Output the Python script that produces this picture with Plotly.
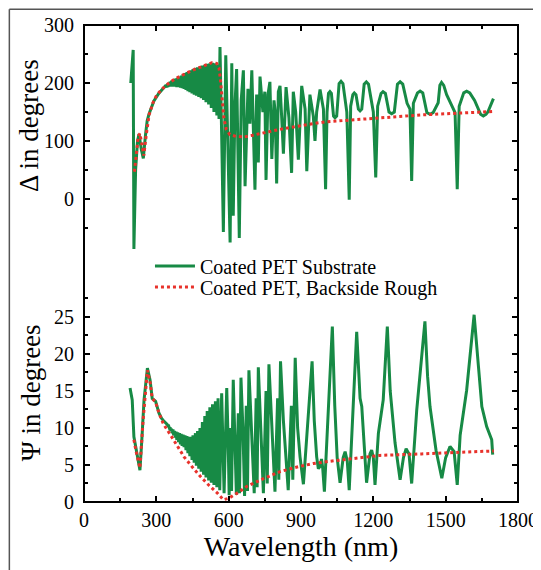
import plotly.graph_objects as go

# Delta (top panel)
wl_delta_coated = [194, 204, 207, 214, 222, 228, 238, 246, 255, 262, 270, 280, 290, 310, 330,
                   340, 343, 345, 348, 351, 354, 357, 360, 363, 366, 369, 372, 375, 379, 382, 385,
                   389, 392, 396, 400, 403, 407, 411, 415, 419, 423, 427, 431, 435, 439, 444, 448,
                   452, 457, 462, 466, 471, 476, 481, 486, 491, 496, 501, 506, 511, 517, 522, 528,
                   533, 539, 545, 551, 556, 560,
                   564, 571, 578, 588, 597, 606, 613, 619, 626, 633, 644, 652, 661, 668, 680, 688,
                   696, 709, 716, 723, 730, 742, 750, 755, 763, 771, 779, 788, 793, 799, 806, 813,
                   820, 827, 838, 850, 861, 868, 878, 889, 903, 917, 924, 937, 951, 958, 965, 979,
                   993, 1002, 1008, 1014, 1020, 1026, 1035, 1041, 1048, 1058, 1066, 1074, 1090, 1100,
                   1106, 1115, 1121, 1128, 1138, 1145, 1152, 1162, 1171, 1180, 1200, 1210, 1218, 1232,
                   1240, 1250, 1265, 1276, 1287, 1300, 1311, 1322, 1340, 1352, 1359, 1366, 1383, 1394,
                   1405, 1422, 1435, 1448, 1469, 1476, 1483, 1492, 1504, 1539, 1548, 1556, 1575, 1587,
                   1600, 1620, 1645, 1656, 1667, 1675, 1698]
delta_coated = [200, 257, -86, 50, 100, 112, 85, 70, 110, 135, 147, 160, 169, 182, 192,
                196, 192, 198, 193, 200, 194, 202, 194, 204, 194, 205, 194, 207, 194, 208, 193,
                209, 193, 211, 192, 213, 191, 215, 190, 217, 188, 219, 186, 220, 184, 222, 182,
                224, 180, 226, 178, 227, 176, 228, 174, 230, 171, 231, 167, 233, 163, 234, 157,
                235, 150, 234, 144, 232, 138,
                262, 110, -57, 248, 90, -75, 234, -29, 160, 224, -67, 170, 222, 22, 190, 130,
                222, 16, 180, 63, 211, 150, 185, 33, 180, 202, 69, 170, 150, 27, 185, 195,
                140, 78, 193, 140, 45, 185, 150, 68, 195, 155, 48, 180, 143, 100, 150, 189,
                155, 17, 150, 182, 185, 182, 143, 140, 143, 199, 203, 199, 150, -1,
                160, 180, 183, 180, 155, 152, 155, 198, 202, 198, 150, 37, 160, 182,
                185, 182, 150, 147, 150, 198, 202, 198, 165, 155, 31, 165, 183, 186,
                183, 149, 146, 149, 166, 196, 201, 196, 180, 149, 17, 160, 183, 186,
                183, 170, 146, 143, 146, 150, 173]

wl_delta_rough = [209, 215, 225, 232, 240, 248, 258, 270, 285, 300, 320, 340, 370, 400, 450,
                  500, 530, 550, 560, 566, 572, 580, 590, 605, 630, 665, 700, 750, 800, 850,
                  900, 950, 1000, 1100, 1200, 1300, 1400, 1500, 1600, 1700]
delta_rough = [47, 70, 108, 113, 90, 75, 110, 145, 165, 178, 188, 196, 205, 212, 222,
               231, 235, 234, 226, 205, 170, 140, 120, 111, 108, 107, 110, 115, 119, 123,
               127, 130, 133, 136, 140, 142, 145, 147, 149, 151]

# Psi (bottom panel)
wl_psi_coated = [191, 200, 207, 214, 222, 232, 240, 249, 263, 274, 283, 297, 311, 322, 332,
                 340, 343, 345, 348, 351, 354, 357, 360, 363, 366, 369, 372, 375, 379, 382, 385,
                 389, 392, 396, 400, 403, 407, 411, 415, 419, 423, 427, 431, 435, 439, 444, 448,
                 452, 457, 462, 466, 471, 476, 481, 486, 491, 496, 501, 506, 511, 517, 522, 528,
                 533, 539, 545, 551, 556, 563, 571, 581,
                 592, 598, 602, 608, 612, 619, 626, 632, 640, 645, 651, 659, 666, 673, 678, 684,
                 693, 706, 714, 718, 723, 733, 744, 755, 760, 767, 778, 792, 803, 808, 815, 827,
                 847, 860, 866, 876, 886, 896, 910, 930, 946, 955, 965, 972, 979, 985, 990, 997,
                 1012, 1030, 1040, 1050, 1062, 1075, 1083, 1092, 1100, 1115, 1131, 1145, 1152, 1172,
                 1186, 1193, 1200, 1207, 1221, 1241, 1258, 1270, 1276, 1290, 1311, 1325, 1336, 1348,
                 1359, 1380, 1414, 1425, 1435, 1460, 1484, 1500, 1518, 1535, 1548, 1560, 1587, 1618,
                 1636, 1650, 1670, 1691, 1695]
psi_coated = [15.4, 13.8, 8.8, 7.5, 6.0, 4.3, 8.5, 13.8, 18.1, 16.5, 14.0, 13.6, 12.0, 11.3, 10.9,
              10.7, 10.6, 10.5, 10.3, 10.3, 10.0, 10.1, 9.6, 9.9, 9.3, 9.8, 9.0, 9.6, 8.7, 9.5, 8.4,
              9.4, 8.1, 9.3, 7.8, 9.2, 7.6, 9.1, 7.4, 9.0, 7.0, 8.9, 6.6, 8.8, 6.2, 8.8, 5.7,
              9.0, 5.3, 9.3, 4.9, 9.6, 4.5, 10.0, 4.1, 10.8, 3.7, 11.6, 3.3, 12.3, 2.9, 12.8, 2.6,
              13.2, 2.3, 13.6, 2.0, 14.0, 1.6, 14.7, 1.2,
              15.4, 8.0, 0.9, 10.0, 1.5, 16.5, 9.0, 1.0, 12.0, 1.2, 16.8, 10.0, 0.8, 13.0, 1.5, 17.8,
              11.0, 1.2, 14.0, 2.0, 18.2, 11.0, 1.2, 15.0, 2.5, 18.6, 11.0, 1.4, 14.0, 3.0, 19.0, 11.0,
              1.6, 13.0, 3.0, 19.5, 10.0, 6.1, 2.4, 11.0, 19.0, 11.0, 6.1, 4.5, 4.8, 5.8, 4.6, 1.4,
              12.0, 23.7, 13.0, 6.0, 2.6, 6.0, 6.8, 5.5, 1.6, 12.0, 23.0, 14.0, 12.9, 2.6,
              6.5, 7.0, 6.0, 2.3, 9.3, 13.8, 23.7, 15.0, 12.9, 8.0, 3.0, 6.0, 7.2, 6.5,
              2.5, 12.4, 24.4, 17.0, 12.9, 7.0, 3.2, 6.0, 7.5, 6.8, 2.3, 9.0, 15.1, 25.3,
              18.3, 12.9, 10.2, 8.4, 6.4]

wl_psi_rough = [207, 215, 232, 245, 263, 275, 283, 297, 311, 330, 360, 390, 415, 450, 484,
                520, 553, 578, 600, 640, 675, 740, 813, 880, 951, 1020, 1090, 1228, 1400, 1550, 1700]
psi_rough = [8.4, 7.0, 4.6, 11.0, 17.8, 16.0, 14.0, 13.5, 12.0, 10.5, 9.0, 7.5, 6.1, 4.7, 3.4,
             2.2, 1.2, 0.3, 0.5, 1.3, 2.1, 3.1, 4.1, 4.7, 5.2, 5.5, 5.8, 6.3, 6.5, 6.7, 6.9]

green = "#178a45"
red = "#e8322b"
serif = "Liberation Serif"

fig = go.Figure()
fig.add_trace(go.Scatter(x=wl_delta_coated, y=delta_coated, mode="lines", name="Coated PET Substrate",
                         line=dict(color=green, width=3), xaxis="x", yaxis="y", legend="legend"))
fig.add_trace(go.Scatter(x=wl_delta_rough, y=delta_rough, mode="lines", name="Coated PET, Backside Rough",
                         line=dict(color=red, width=3, dash="dot"), xaxis="x", yaxis="y", legend="legend2"))
fig.add_trace(go.Scatter(x=wl_psi_coated, y=psi_coated, mode="lines", showlegend=False,
                         line=dict(color=green, width=3), xaxis="x2", yaxis="y2"))
fig.add_trace(go.Scatter(x=wl_psi_rough, y=psi_rough, mode="lines", showlegend=False,
                         line=dict(color=red, width=3, dash="dot"), xaxis="x2", yaxis="y2"))

ax = dict(ticks="inside", ticklen=6, tickwidth=1.5, tickcolor="black", showgrid=False,
          zeroline=False, showline=False, automargin=False,
          tickfont=dict(family=serif, size=20, color="black"))
leg = dict(xanchor="left", yanchor="middle", bgcolor="rgba(0,0,0,0)", itemwidth=40,
           font=dict(family=serif, size=20))

fig.update_layout(
    width=533, height=562,
    margin=dict(l=76, r=23, t=17, b=68),
    paper_bgcolor="white", plot_bgcolor="white",
    font=dict(family=serif, color="black"),
    xaxis=dict(ax, anchor="y", side="top", range=[0, 1800], dtick=300, showticklabels=False,
               minor=dict(ticks="inside", ticklen=4, tickcolor="black", dtick=150)),
    yaxis=dict(ax, domain=[0.5172, 1], range=[-97, 300], dtick=100, mirror="ticks",
               ticklabelstandoff=9,
               minor=dict(ticks="inside", ticklen=4, tickcolor="black", dtick=50)),
    xaxis2=dict(ax, anchor="y2", matches="x", range=[0, 1800], dtick=300, ticklabelstandoff=4,
                minor=dict(ticks="inside", ticklen=4, tickcolor="black", dtick=150),
                title=dict(text="Wavelength (nm)", font=dict(family=serif, size=28), standoff=4)),
    yaxis2=dict(ax, domain=[0, 0.4577], range=[0, 29.5], dtick=5, mirror="ticks",
                ticklabelstandoff=9,
                minor=dict(ticks="inside", ticklen=4, tickcolor="black", dtick=2.5),
                title=dict(text="Ψ in degrees", font=dict(family=serif, size=27), standoff=5)),
    legend=dict(leg, x=0.152, y=0.4948),
    legend2=dict(leg, x=0.152, y=0.4507),
    annotations=[
        dict(text="Δ in degrees", xref="paper", yref="paper", x=-0.127, y=0.79,
             xanchor="center", yanchor="middle", textangle=-90, showarrow=False,
             font=dict(family=serif, size=27)),
    ],
    shapes=[
        dict(type="rect", xref="paper", yref="paper", x0=0, y0=0, x1=1, y1=1,
             line=dict(color="black", width=2)),
        dict(type="line", xref="paper", yref="paper", x0=-0.172, y0=1.033, x1=1.1, y1=1.033,
             line=dict(color="#555555", width=1.5)),
        dict(type="line", xref="paper", yref="paper", x0=-0.172, y0=1.033, x1=-0.172, y1=-0.2,
             line=dict(color="#555555", width=1.5)),
    ],
)

fig.write_html("out.html")
